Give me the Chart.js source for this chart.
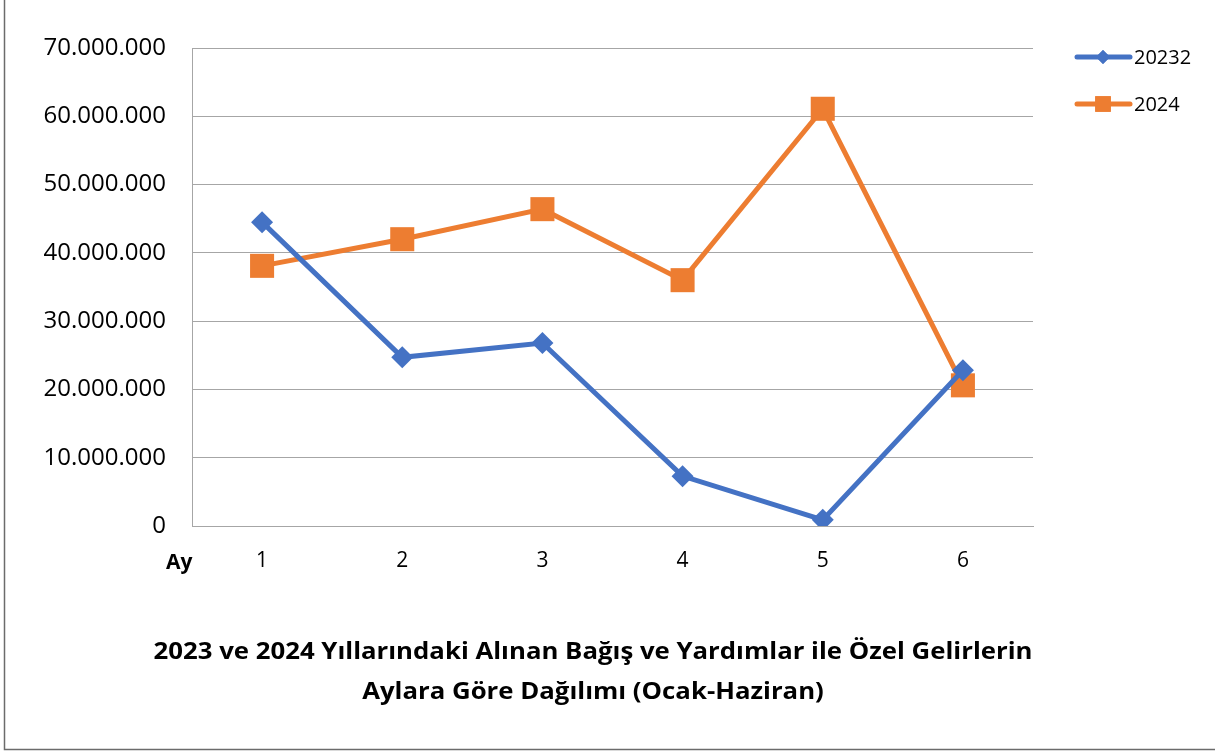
<!DOCTYPE html>
<html>
<head>
<meta charset="utf-8">
<script src="https://cdn.jsdelivr.net/npm/chart.js@4"></script>
<style>
  html, body { margin: 0; padding: 0; background: #fff; }
  #wrap { position: relative; width: 1215px; height: 751px; }
</style>
</head>
<body>
<div id="wrap"><canvas id="myChart" width="1215" height="751"></canvas></div>
<script>
// aylar ve seriler
const months = ["1", "2", "3", "4", "5", "6"];
const values2023 = [44500000, 24700000, 26800000, 7300000, 900000, 22800000];
const values2024 = [38100000, 42000000, 46400000, 36000000, 61100000, 20600000];
const seriesNames = ["20232", "2024"];
const titleLines = [
  "2023 ve 2024 Yıllarındaki Alınan Bağış ve Yardımlar ile Özel Gelirlerin",
  "Aylara Göre Dağılımı (Ocak-Haziran)",
];

const BLUE = "#4472C4";
const ORANGE = "#ED7D31";

const formatTr = (v) => Number(v).toLocaleString("de-DE");

// legend, "Ay", title and frame
const extras = {
  id: "extras",
  afterDraw(chart) {
    const ctx = chart.ctx;
    ctx.save();

    // frame
    ctx.strokeStyle = "#6b6b6b";
    ctx.lineWidth = 1.5;
    ctx.beginPath();
    ctx.moveTo(4.5, 0);
    ctx.lineTo(4.5, 749.5);
    ctx.lineTo(1215, 749.5);
    ctx.stroke();

    // legend
    const items = [
      { name: seriesNames[0], color: BLUE, style: "rectRot", r: 7, y: 57 },
      { name: seriesNames[1], color: ORANGE, style: "rect", r: 11, y: 104 },
    ];
    items.forEach((it) => {
      ctx.strokeStyle = it.color;
      ctx.lineWidth = 5;
      ctx.lineCap = "round";
      ctx.beginPath();
      ctx.moveTo(1077, it.y);
      ctx.lineTo(1130, it.y);
      ctx.stroke();
      ctx.fillStyle = it.color;
      Chart.helpers.drawPoint(ctx, { pointStyle: it.style, radius: it.r, borderWidth: 0 }, 1103, it.y);
      ctx.fill();
      ctx.fillStyle = "#000";
      ctx.font = "20px 'Open Sans'";
      ctx.textAlign = "left";
      ctx.textBaseline = "middle";
      ctx.fillText(it.name, 1134, it.y + 1);
    });

    // axis name
    ctx.fillStyle = "#000";
    ctx.font = "bold 21px 'Open Sans'";
    ctx.textAlign = "left";
    ctx.textBaseline = "middle";
    ctx.fillText("Ay", 166, 563);

    // title, squeezed to the width of the original first line
    ctx.font = "bold 23px 'Open Sans'";
    ctx.textAlign = "center";
    const sx = 879 / ctx.measureText(titleLines[0]).width;
    ctx.translate(593, 0);
    ctx.scale(sx, 1);
    titleLines.forEach((line, i) => {
      ctx.fillText(line, 0, 652 + i * 40);
    });

    ctx.restore();
  },
};

const ctx = document.getElementById("myChart").getContext("2d");
const myChart = new Chart(ctx, {
  type: "line",
  data: {
    labels: months,
    datasets: [
      {
        label: seriesNames[0],
        data: values2023,
        borderColor: BLUE,
        backgroundColor: BLUE,
        borderWidth: 5,
        pointStyle: "rectRot",
        pointRadius: 11,
        pointBorderWidth: 0,
        tension: 0,
      },
      {
        label: seriesNames[1],
        data: values2024,
        borderColor: ORANGE,
        backgroundColor: ORANGE,
        borderWidth: 5,
        pointStyle: "rect",
        pointRadius: 17,
        pointBorderWidth: 0,
        tension: 0,
      },
    ],
  },
  options: {
    responsive: false,
    animation: false,
    layout: { padding: { left: 0, right: 182, top: 48, bottom: 0 } },
    plugins: {
      legend: { display: false },
      title: { display: false },
      tooltip: { enabled: false },
    },
    scales: {
      x: {
        offset: true,
        grid: { display: false, drawTicks: false },
        border: { color: "#a6a6a6", width: 1 },
        ticks: {
          color: "#000",
          font: { family: "'Open Sans'", size: 21 },
          padding: 22,
        },
        afterFit: (scale) => {
          scale.height = 225;
        },
      },
      y: {
        min: 0,
        max: 70000000,
        grid: { color: "#a6a6a6", lineWidth: 1, drawTicks: false },
        border: { color: "#a6a6a6", width: 1 },
        ticks: {
          stepSize: 10000000,
          color: "#000",
          font: { family: "'Open Sans'", size: 24 },
          padding: 26,
          callback: (v) => formatTr(v),
        },
        afterFit: (scale) => {
          scale.width = 192;
        },
      },
    },
  },
  plugins: [extras],
});
</script>
</body>
</html>
